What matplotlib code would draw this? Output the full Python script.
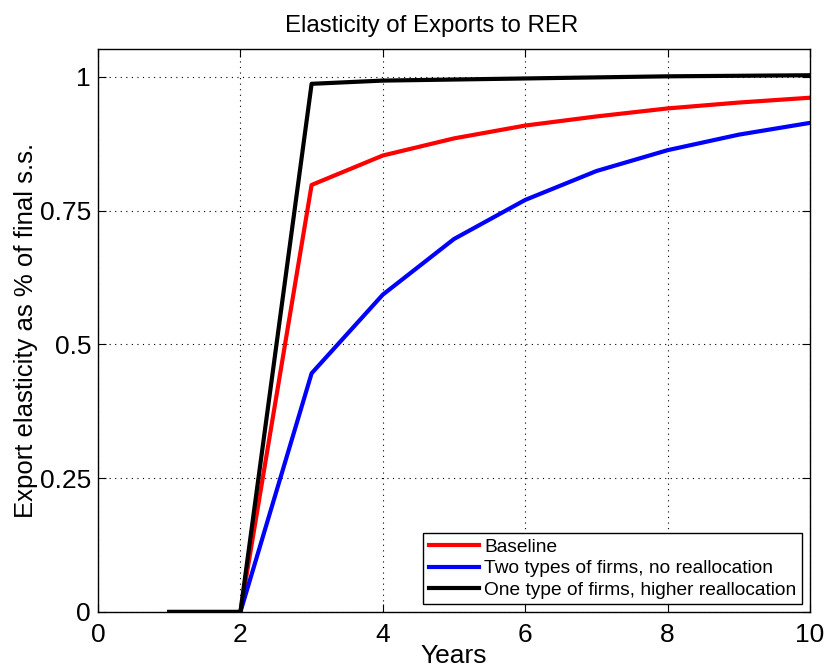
import matplotlib
matplotlib.use("Agg")
import matplotlib.pyplot as plt

plt.rcParams['font.family'] = ['Liberation Sans', 'DejaVu Sans']

years = [1, 2, 3, 4, 5, 6, 7, 8, 9, 10]
baseline = [0, 0, 0.798, 0.853, 0.885, 0.909, 0.926, 0.941, 0.952, 0.961]
two_types = [0, 0, 0.446, 0.593, 0.697, 0.770, 0.824, 0.863, 0.892, 0.914]
one_type = [0, 0, 0.987, 0.993, 0.995, 0.997, 0.999, 1.001, 1.002, 1.003]

labels = ["Baseline",
          "Two types of firms, no reallocation",
          "One type of firms, higher reallocation"]

fig = plt.figure(figsize=(8.27, 6.67), dpi=100)
ax = fig.add_axes([0.1185, 0.0825, 0.861, 0.844])

ax.plot(years, baseline, color='#ff0000', lw=3, label=labels[0])
ax.plot(years, two_types, color='#0000ff', lw=3, label=labels[1])
ax.plot(years, one_type, color='black', lw=3, label=labels[2])

ax.set_xlim(0, 10)
ax.set_ylim(0, 1.052)
ax.set_xticks([0, 2, 4, 6, 8, 10])
ax.set_yticks([0, 0.25, 0.5, 0.75, 1])
ax.set_yticklabels(['0', '0.25', '0.5', '0.75', '1'])
ax.tick_params(direction='in', labelsize=19, length=6, top=True, right=True)
ax.tick_params(axis='x', pad=8)
ax.tick_params(axis='y', pad=5)
ax.grid(True, linestyle=(0, (1, 4)), color='black', lw=0.8)
for s in ax.spines.values():
    s.set_linewidth(1)

ax.set_title("Elasticity of Exports to RER", fontsize=17.3, pad=12, x=0.468)
ax.set_xlabel("Years", fontsize=19, labelpad=-2)
ax.set_ylabel("Export elasticity as % of final s.s.", fontsize=18.5, labelpad=1)

leg = ax.legend(loc='lower right', fontsize=13.8, fancybox=False, framealpha=1,
                edgecolor='black', handlelength=2.6, borderpad=0.3,
                labelspacing=0.2, handletextpad=0.3, borderaxespad=0.4)
leg.get_frame().set_linewidth(1)

fig.savefig("out.png", dpi=100)
